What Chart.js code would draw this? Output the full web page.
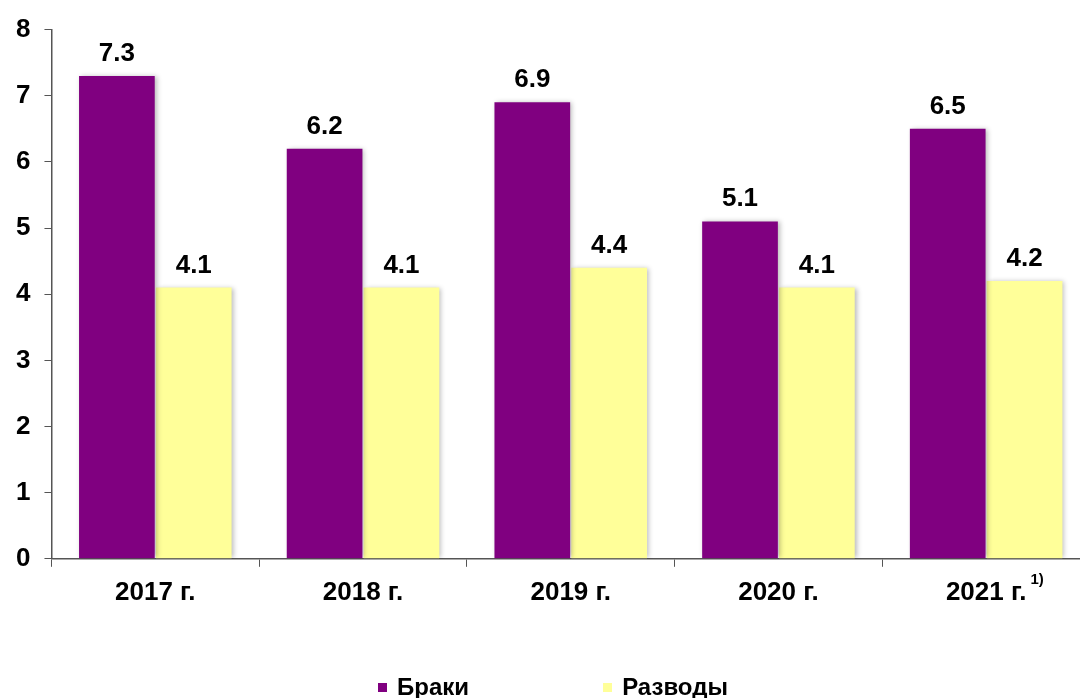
<!DOCTYPE html>
<html>
<head>
<meta charset="utf-8">
<script src="https://cdn.jsdelivr.net/npm/chart.js@4"></script>
<style>
  html, body { margin: 0; padding: 0; background: #fff; overflow: hidden; }
  #wrap { position: relative; width: 1080px; height: 698px; overflow: hidden; }
  #legend { position: absolute; left: 13px; top: 673px; width: 1080px; text-align: center;
    font: bold 24px "Liberation Sans", Arial, sans-serif; color: #000; }
  #legend span.item { display: inline-block; margin: 0 67px; }
  #legend span.box { display: inline-block; width: 9px; height: 9px; margin-right: 10px; vertical-align: 3px; }
</style>
</head>
<body>
<div id="wrap">
  <canvas id="myChart" width="1090" height="698"></canvas>
  <div id="legend"></div>
</div>
<script>
const years = ["2017 г.", "2018 г.", "2019 г.", "2020 г.", "2021 г."];
const footnotes = ["", "", "", "", "1)"];
const marriages = [7.3, 6.2, 6.9, 5.1, 6.5];
const divorces = [4.1, 4.1, 4.4, 4.1, 4.2];

const font = "'Liberation Sans', Arial, sans-serif";

const shadowPlugin = {
  id: "shadow",
  beforeDatasetsDraw(chart) {
    const ctx = chart.ctx;
    ctx.save();
    ctx.shadowColor = "rgba(0,0,0,0.28)";
    ctx.shadowBlur = 5;
    ctx.shadowOffsetX = 2;
    ctx.shadowOffsetY = 0;
  },
  afterDatasetsDraw(chart) {
    const ctx = chart.ctx;
    ctx.restore();
    ctx.save();
    ctx.fillStyle = "#000";
    ctx.font = "bold 26px " + font;
    ctx.textAlign = "center";
    ctx.textBaseline = "alphabetic";
    chart.data.datasets.forEach((ds, di) => {
      chart.getDatasetMeta(di).data.forEach((bar, i) => {
        ctx.fillText(ds.data[i].toFixed(1), bar.x, bar.y - 15);
      });
    });
    // footnote marks next to category labels
    const xs = chart.scales.x;
    ctx.textAlign = "left";
    footnotes.forEach((f, i) => {
      if (!f) return;
      ctx.font = "bold 26px " + font;
      const w = ctx.measureText(years[i]).width;
      ctx.font = "bold 15px " + font;
      ctx.fillText(f, xs.getPixelForValue(i) + w / 2 + 4, chart.chartArea.bottom + 25);
    });
    ctx.restore();
  }
};

const chart = new Chart("myChart", {
  type: "bar",
  data: {
    labels: years,
    datasets: [
      {
        label: "Браки",
        data: marriages,
        backgroundColor: "#800080",
        barPercentage: 0.985,
        categoryPercentage: 0.74,
      },
      {
        label: "Разводы",
        data: divorces,
        backgroundColor: "#FFFF99",
        barPercentage: 0.985,
        categoryPercentage: 0.74,
      },
    ],
  },
  options: {
    responsive: false,
    animation: false,
    layout: { padding: { top: 20, left: 2, right: 0, bottom: 80 } },
    plugins: {
      legend: { display: false },
      tooltip: { enabled: false },
    },
    scales: {
      x: {
        grid: { display: true, drawOnChartArea: false, tickLength: 8, color: "#555" },
        border: { color: "#555", width: 1.5 },
        ticks: { color: "#000", padding: 10, font: { family: font, size: 26, weight: "bold" } },
      },
      y: {
        min: 0,
        max: 8,
        grid: { display: true, drawOnChartArea: false, tickLength: 7, color: "#555" },
        border: { color: "#555", width: 1.5 },
        ticks: { stepSize: 1, color: "#000", padding: 14, font: { family: font, size: 26, weight: "bold" } },
      },
    },
  },
  plugins: [shadowPlugin],
});

const legend = document.getElementById("legend");
chart.data.datasets.forEach((ds) => {
  const item = document.createElement("span");
  item.className = "item";
  const box = document.createElement("span");
  box.className = "box";
  box.style.background = ds.backgroundColor;
  item.appendChild(box);
  item.appendChild(document.createTextNode(ds.label));
  legend.appendChild(item);
});
</script>
</body>
</html>
